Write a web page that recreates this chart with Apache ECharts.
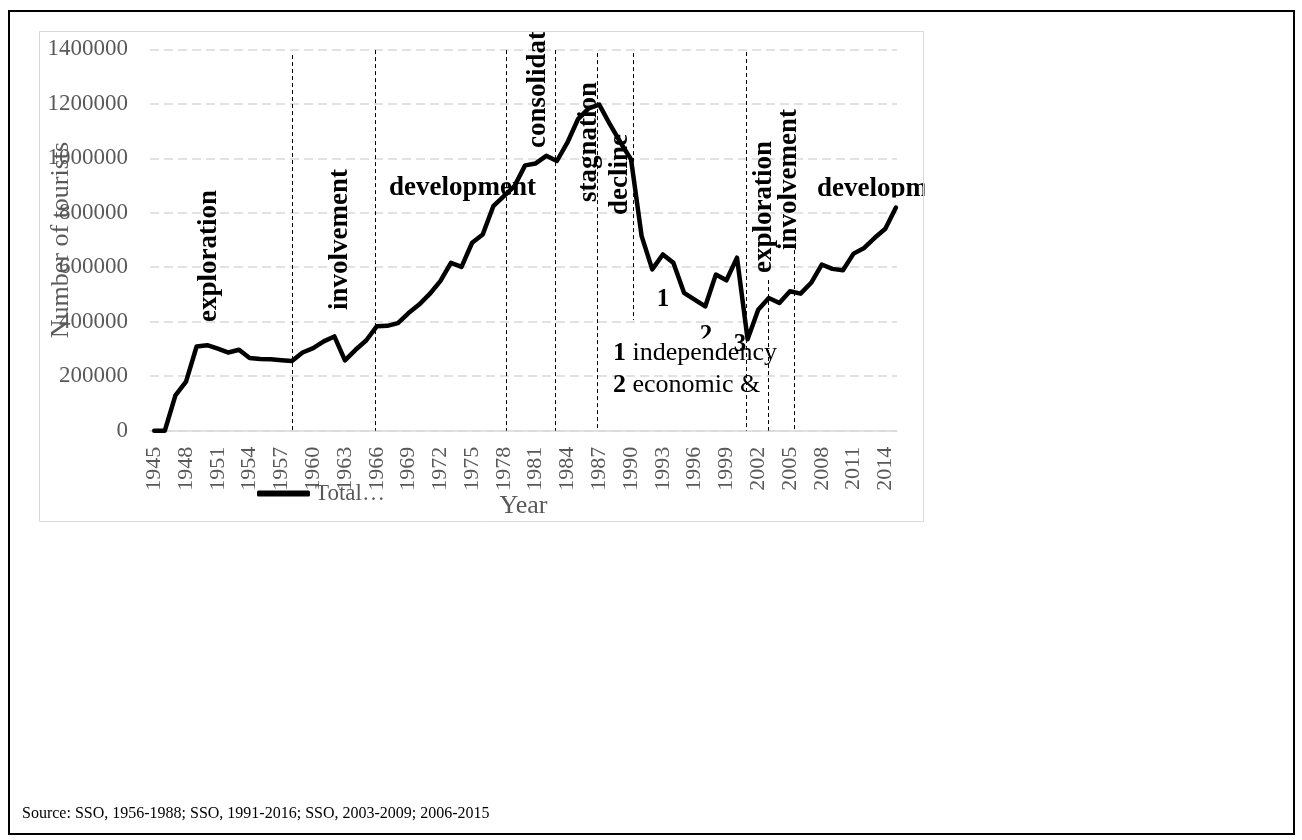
<!DOCTYPE html>
<html><head><meta charset="utf-8">
<script src="https://cdn.jsdelivr.net/npm/echarts@6/dist/echarts.min.js"></script>
<style>html,body{margin:0;padding:0;background:#fff}#c{width:1302px;height:840px}</style>
</head><body><div id="c"></div>
<script>
// ---------- data ----------
const years = [1945,1946,1947,1948,1949,1950,1951,1952,1953,1954,1955,1956,1957,1958,1959,1960,1961,1962,1963,1964,1965,1966,1967,1968,1969,1970,1971,1972,1973,1974,1975,1976,1977,1978,1979,1980,1981,1982,1983,1984,1985,1986,1987,1988,1989,1990,1991,1992,1993,1994,1995,1996,1997,1998,1999,2000,2001,2002,2003,2004,2005,2006,2007,2008,2009,2010,2011,2012,2013,2014,2015];
const totalTourists = [0,0,130000,180000,309000,314000,301000,287000,297000,267000,263000,262000,259000,256000,287000,303000,328000,346000,258000,297000,331000,383000,385000,395000,432000,463000,502000,549000,616000,601000,690000,720000,824000,861000,898000,974000,981000,1009000,990000,1058000,1144000,1183000,1197000,1125000,1058000,996000,714000,592000,647000,616000,506000,481000,456000,573000,552000,635000,336000,444000,487000,469000,512000,503000,543000,610000,594000,589000,650000,671000,708000,741000,819000];
const xTickLabels = [1945,1948,1951,1954,1957,1960,1963,1966,1969,1972,1975,1978,1981,1984,1987,1990,1993,1996,1999,2002,2005,2008,2011,2014];
const seriesName = 'Total…';
const phaseNames = ['exploration','involvement','development','consolidation','stagnation','decline','exploration','involvement','development'];
const phaseBoundaryYears = [1958, 1965.9, 1978.2, 1982.8, 1986.8, 1990.2, 2000.85, 2002.95, 2005.4];
const eventNumbers = ['1','2','3'];
const eventNotes = ['independency','economic &'];
const sourceText = 'Source: SSO, 1956-1988; SSO, 1991-2016; SSO, 2003-2009; 2006-2015';

// ---------- layout (positions in data coordinates) ----------
const boundarySpans = [[1379000,0],[1397000,0],[1397000,0],[1397000,0],[1386000,0],[1386000,406000],[1390000,0],[553000,0],[663000,0]];
const phaseLabelLayout = [
  {coord:[1950.17, 399000], rotate:90},
  {coord:[1962.53, 443000], rotate:90},
  {coord:[1967.16, 890900], rotate:0},
  {coord:[1981.22, 1037700], rotate:90},
  {coord:[1986.03, 839500], rotate:90},
  {coord:[1988.96, 791800], rotate:90},
  {coord:[2002.55, 578900], rotate:90},
  {coord:[2004.91, 663300], rotate:90},
  {coord:[2007.55, 887200], rotate:0}
];
const eventNumberLayout = [[1993.01, 479800],[1997.07, 347600],[2000.28, 314600]];
const eventNoteLayout = [[1988.3, 285200],[1988.3, 167800]];

const FONT = 'Liberation Serif';
const chart = echarts.init(document.getElementById('c'), null, {renderer:'canvas'});
const seriesData = years.map((y,i)=>[y, totalTourists[i]]);

const markPoints = [];
phaseNames.forEach((name,i)=>{
  const L = phaseLabelLayout[i];
  markPoints.push({name:'p'+i, coord:L.coord, symbolSize:0,
    label:{show:true, formatter:name, rotate:L.rotate, align:'left', verticalAlign:'middle',
      fontFamily:FONT, fontWeight:'bold', fontSize:27, color:'#000'}});
});
eventNumbers.forEach((n,i)=>{
  markPoints.push({name:'e'+i, coord:eventNumberLayout[i], symbolSize:0,
    label:{show:true, formatter:n, align:'center', verticalAlign:'middle', fontFamily:FONT, fontWeight:'bold', fontSize:25, color:'#000'}});
});
eventNotes.forEach((t,i)=>{
  markPoints.push({name:'n'+i, coord:eventNoteLayout[i], symbolSize:0,
    label:{show:true, formatter:'{bd|'+eventNumbers[i]+'} '+t, align:'left', verticalAlign:'middle', fontFamily:FONT, fontSize:26, color:'#000',
      rich:{bd:{fontFamily:FONT, fontWeight:'bold', fontSize:26, color:'#000'}}}});
});
const markLines = phaseBoundaryYears.map((yr,i)=>[{coord:[yr, boundarySpans[i][0]]},{coord:[yr, boundarySpans[i][1]]}]);

// white masks emulate the clipping of text boxes at the chart-area edges
const masks = [
  {x:500, y:0, width:80, height:31},       // above chart area (consolidation)
  {x:924.5, y:160, width:60, height:60},    // right of chart area (development)
  {x:814, y:197.5, width:109, height:7},    // descender cut of the right "development"
  {x:698, y:338.5, width:16, height:6}      // cut of marker "2"
];

chart.setOption({
  animation:false,
  backgroundColor:'#fff',
  grid:{left:150, right:405, top:49.3, bottom:409.3, containLabel:false},
  legend:{data:[{name:seriesName, icon:'roundRect'}], left:257, top:482, padding:0, itemWidth:53, itemHeight:6, itemGap:10,
    textStyle:{fontFamily:FONT, fontSize:23, color:'#595959'}},
  xAxis:{type:'value', min:1944.6, max:2015.1,
    name:'Year', nameLocation:'middle', nameGap:62, nameMoveOverlap:false,
    nameTextStyle:{fontFamily:FONT, fontSize:26, color:'#595959'},
    axisLine:{show:true, lineStyle:{color:'#d9d9d9', width:1.5}},
    axisTick:{show:false}, splitLine:{show:false},
    axisLabel:{customValues:xTickLabels, rotate:90, margin:16, fontFamily:FONT, fontSize:22, color:'#595959', formatter:v=>String(v)}},
  yAxis:{type:'value', min:0, max:1400000, interval:200000,
    name:'Number of tourists', nameLocation:'middle', nameGap:76, nameMoveOverlap:false,
    nameTextStyle:{fontFamily:FONT, fontSize:26, color:'#595959'},
    axisLine:{show:false}, axisTick:{show:false},
    axisLabel:{margin:22, fontFamily:FONT, fontSize:23, color:'#595959', formatter:v=>String(v)},
    splitLine:{show:true, lineStyle:{color:'#d9d9d9', width:1.5, type:[9,5]}}},
  series:[{
    name:seriesName, type:'line', data:seriesData, symbol:'none', showSymbol:false,
    lineStyle:{color:'#000', width:4.5, cap:'round', join:'round'},
    itemStyle:{color:'#000'},
    z:3,
    markLine:{silent:true, symbol:['none','none'], label:{show:false},
      lineStyle:{color:'#000', width:1, type:[4,3]}, data:markLines},
    markPoint:{silent:true, data:markPoints}
  }],
  graphic:[].concat(
    masks.map(m=>({type:'rect', silent:true, z:100, shape:m, style:{fill:'#fff'}})),
    [
      {type:'rect', silent:true, z:101, shape:{x:9,y:11,width:1285,height:823}, style:{fill:'transparent', stroke:'#000', lineWidth:2}},
      {type:'rect', silent:true, z:101, shape:{x:39.5,y:31.5,width:884,height:490}, style:{fill:'transparent', stroke:'#d9d9d9', lineWidth:1}},
      {type:'text', silent:true, z:101, left:22, top:806, style:{text:sourceText, font:'16px "Liberation Serif"', fill:'#000'}}
    ])
});
</script></body></html>
